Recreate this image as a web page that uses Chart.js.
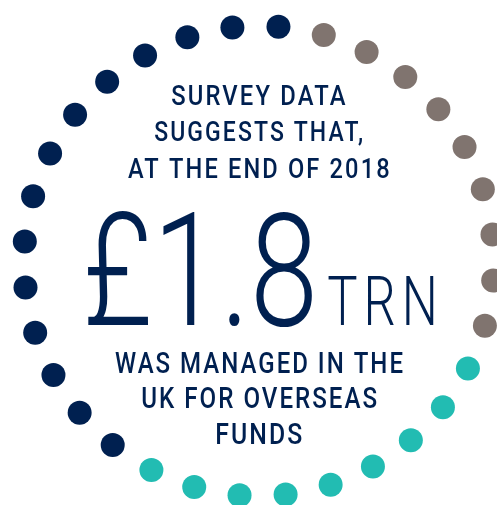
<!DOCTYPE html>
<html>
<head>
<meta charset="utf-8">
<script src="https://cdn.jsdelivr.net/npm/chart.js@4"></script>
<style>
  html, body { margin: 0; padding: 0; background: #ffffff; }
  canvas { display: block; }
</style>
</head>
<body>
<canvas id="dotChart" width="497" height="505"></canvas>
<script>
// dots around the ring, clockwise from the first grey one
const segments = ["grey", "teal", "navy"];
const segmentDots = [9, 9, 14];
const segmentColors = ["#80746f", "#22bcb2", "#002050"];
const dotValue = 1;

// text in the middle
const topLines = ["SURVEY DATA", "SUGGESTS THAT,", "AT THE END OF 2018"];
const headline = "£1.8";
const headlineUnit = "TRN";
const bottomLines = ["WAS MANAGED IN THE", "UK FOR OVERSEAS", "FUNDS"];

const navy = "#002050";

const totalDots = segmentDots.reduce((a, b) => a + b, 0);
const labels = Array(totalDots).fill("");

let offset = 0;
const datasets = segments.map((name, i) => {
  const data = Array(totalDots).fill(null);
  for (let k = 0; k < segmentDots[i]; k++) {
    data[offset + k] = dotValue;
  }
  offset += segmentDots[i];
  return {
    label: name,
    data: data,
    showLine: false,
    fill: false,
    clip: false,
    pointRadius: 12,
    pointHoverRadius: 12,
    pointBorderWidth: 0,
    pointBackgroundColor: segmentColors[i]
  };
});

// squeeze a string so its ink spans `width` px, left ink edge at x
function fitText(ctx, text, x, y, width, spacing) {
  ctx.letterSpacing = spacing + 'px';
  const m = ctx.measureText(text);
  const inkW = m.actualBoundingBoxLeft + m.actualBoundingBoxRight - spacing;
  const sx = width / inkW;
  ctx.save();
  ctx.translate(x, y);
  ctx.scale(sx, 1);
  ctx.textAlign = 'left';
  ctx.fillText(text, m.actualBoundingBoxLeft, 0);
  ctx.restore();
}

// draws the text block inside the ring
const centerText = {
  id: 'centerText',
  afterDraw(chart) {
    const ctx = chart.ctx;
    const r = chart.scales.r;
    const cx = r.xCenter;
    const cy = r.yCenter;

    ctx.save();
    ctx.fillStyle = navy;
    ctx.textBaseline = 'alphabetic';

    // upper lines: [left ink offset, width, baseline offset]
    ctx.font = '500 27.5px Roboto';
    const topPos = [[-87, 172, -156], [-104, 205, -120], [-131, 259, -83]];
    topLines.forEach((line, i) => {
      const p = topPos[i];
      fitText(ctx, line, cx + p[0], cy + p[2], p[1], 2.5);
    });

    // lower lines
    ctx.font = '500 30px Roboto';
    const bottomPos = [[-144, 286, 112], [-117, 233, 147], [-42, 83, 183]];
    bottomLines.forEach((line, i) => {
      const p = bottomPos[i];
      fitText(ctx, line, cx + p[0], cy + p[2], p[1], 2.5);
    });

    // big figure
    ctx.font = '300 158px Roboto';
    fitText(ctx, headline, cx - 171, cy + 64, 224, 0);

    ctx.font = '300 68px Roboto';
    fitText(ctx, headlineUnit, cx + 69, cy + 64, 100, 8);

    ctx.restore();
  }
};

const ctx = document.getElementById('dotChart').getContext('2d');
new Chart(ctx, {
  type: 'radar',
  data: {
    labels: labels,
    datasets: datasets
  },
  options: {
    responsive: false,
    animation: false,
    layout: {
      padding: { left: 24, right: 3, top: 26, bottom: 9 }
    },
    scales: {
      r: {
        min: 0,
        max: dotValue,
        startAngle: 16,
        grid: { display: false },
        angleLines: { display: false },
        ticks: { display: false },
        pointLabels: { display: false }
      }
    },
    plugins: {
      legend: { display: false },
      tooltip: { enabled: false }
    }
  },
  plugins: [centerText]
});
</script>
</body>
</html>
